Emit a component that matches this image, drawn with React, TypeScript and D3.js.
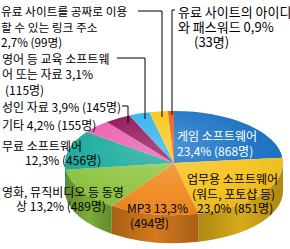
import React from "react";
import * as d3 from "d3";

const categories = [
  "게임 소프트웨어",
  "업무용 소프트웨어 (워드, 포토샵 등)",
  "MP3",
  "영화, 뮤직비디오 등 동영상",
  "무료 소프트웨어",
  "기타",
  "성인 자료",
  "영어 등 교육 소프트웨어 또는 자료",
  "유료 사이트를 공짜로 이용할 수 있는 링크 주소",
  "유료 사이트의 아이디와 패스워드",
];
const percents = [23.4, 23.0, 13.3, 13.2, 12.3, 4.2, 3.9, 3.1, 2.7, 0.9];
const counts = [868, 851, 494, 489, 456, 155, 145, 115, 99, 33];
const colors = [
  "#1570c2", "#f6c21c", "#f0891f", "#8dc43f", "#13a89a",
  "#e95cae", "#8c0d52", "#2ab0e8", "#f9c40f", "#e4561b",
];

const pct = (i: number) => percents[i].toFixed(1).replace(".", ",") + "%";
const cnt = (i: number) => `(${counts[i]}명)`;

type Line = { x: number; y: number; t: string };
const labels: { fill: string; size: number; lines: Line[] }[] = [
  { fill: "#ffffff", size: 12, lines: [
    { x: 177, y: 135, t: "게임 소프트웨어" },
    { x: 177, y: 150, t: `${pct(0)} ${cnt(0)}` },
  ]},
  { fill: "#000", size: 12, lines: [
    { x: 187, y: 178, t: "업무용 소프트웨어" },
    { x: 192, y: 193, t: "(워드, 포토샵 등)" },
    { x: 197, y: 207, t: `${pct(1)} ${cnt(1)}` },
  ]},
  { fill: "#000", size: 12, lines: [
    { x: 127, y: 207, t: `MP3  ${pct(2)}` },
    { x: 130, y: 222, t: cnt(2) },
  ]},
  { fill: "#000", size: 12, lines: [
    { x: 2, y: 191, t: "영화, 뮤직비디오 등 동영" },
    { x: 16, y: 205, t: `상 ${pct(3)} ${cnt(3)}` },
  ]},
  { fill: "#000", size: 12, lines: [
    { x: 2, y: 145, t: "무료 소프트웨어" },
    { x: 25, y: 159, t: `${pct(4)} ${cnt(4)}` },
  ]},
  { fill: "#000", size: 12, lines: [{ x: 2, y: 124, t: `기타  ${pct(5)} ${cnt(5)}` }] },
  { fill: "#000", size: 12, lines: [{ x: 2, y: 106, t: `성인 자료 ${pct(6)} ${cnt(6)}` }] },
  { fill: "#000", size: 12, lines: [
    { x: 2, y: 58, t: "영어 등 교육 소프트웨" },
    { x: 2, y: 73, t: `어 또는 자료  ${pct(7)}` },
    { x: 5, y: 89, t: cnt(7) },
  ]},
  { fill: "#000", size: 11.7, lines: [
    { x: 1, y: 10, t: "유료 사이트를 공짜로 이용" },
    { x: 1, y: 26, t: "할 수 있는 링크 주소" },
    { x: 1, y: 41, t: `${pct(8)} ${cnt(8)}` },
  ]},
  { fill: "#000", size: 13, lines: [
    { x: 178, y: 11, t: "유료 사이트의 아이디" },
    { x: 178, y: 26, t: `와 패스워드  ${pct(9)}` },
    { x: 194, y: 41, t: cnt(9) },
  ]},
];

const leaders: [number, number][][] = [
  [[122, 106], [128, 106], [128, 123]],
  [[117, 58], [145, 58], [145, 119]],
  [[138, 11], [162, 11], [162, 117]],
  [[175, 10], [172, 10], [172, 115]],
];

const cx = 174, cy = 163, rx = 109, ry = 52, depth = 28;

export default function App() {
  const pie = d3.pie<number>().sort(null).value((d) => d)(percents);
  const pt = (a: number, dy = 0): [number, number] => [cx + rx * Math.sin(a), cy - ry * Math.cos(a) + dy];
  const top = (a0: number, a1: number) => {
    const p0 = pt(a0), p1 = pt(a1);
    const large = a1 - a0 > Math.PI ? 1 : 0;
    return `M${cx},${cy}L${p0[0]},${p0[1]}A${rx},${ry} 0 ${large} 1 ${p1[0]},${p1[1]}Z`;
  };
  const side = (a0: number, a1: number) => {
    const s = Math.max(a0, Math.PI / 2), e = Math.min(a1, (3 * Math.PI) / 2);
    if (e <= s) return null;
    const p0 = pt(s), p1 = pt(e), q1 = pt(e, depth), q0 = pt(s, depth);
    return `M${p0[0]},${p0[1]}A${rx},${ry} 0 0 1 ${p1[0]},${p1[1]}L${q1[0]},${q1[1]}A${rx},${ry} 0 0 0 ${q0[0]},${q0[1]}Z`;
  };
  const line = d3.line();
  return (
    <svg width={290} height={249} style={{ position: "absolute", left: 0, top: 0, background: "#fff" }}
      fontFamily="'Noto Sans CJK KR', sans-serif" fontSize={12}>
      <defs>
        <radialGradient id="hl" cx="0.45" cy="0.35" r="0.7">
          <stop offset="0" stopColor="#fff" stopOpacity={0.25} />
          <stop offset="0.6" stopColor="#fff" stopOpacity={0.05} />
          <stop offset="1" stopColor="#000" stopOpacity={0.08} />
        </radialGradient>
        <linearGradient id="sd" x1="0" x2="1" y1="0" y2="0">
          <stop offset="0" stopColor="#000" stopOpacity={0.3} />
          <stop offset="0.5" stopColor="#000" stopOpacity={0.12} />
          <stop offset="1" stopColor="#000" stopOpacity={0.3} />
        </linearGradient>
      </defs>
      {pie.map((d, i) => {
        const p = side(d.startAngle, d.endAngle);
        return p ? (
          <g key={"s" + i}>
            <path d={p} fill={colors[i]} />
            <path d={p} fill="url(#sd)" />
          </g>
        ) : null;
      })}
      {pie.map((d, i) => (
        <path key={"t" + i} d={top(d.startAngle, d.endAngle)} fill={colors[i]} />
      ))}
      <ellipse cx={cx} cy={cy} rx={rx} ry={ry} fill="url(#hl)" />
      {leaders.map((pts, i) => (
        <path key={"l" + i} d={line(pts) || ""} fill="none" stroke="#000" strokeWidth={1} />
      ))}
      {labels.map((l, i) =>
        l.lines.map((ln, j) => (
          <text key={i + "-" + j} x={ln.x} y={ln.y} dominantBaseline="central" fill={l.fill} fontSize={l.size}>
            {ln.t}
          </text>
        ))
      )}
    </svg>
  );
}
